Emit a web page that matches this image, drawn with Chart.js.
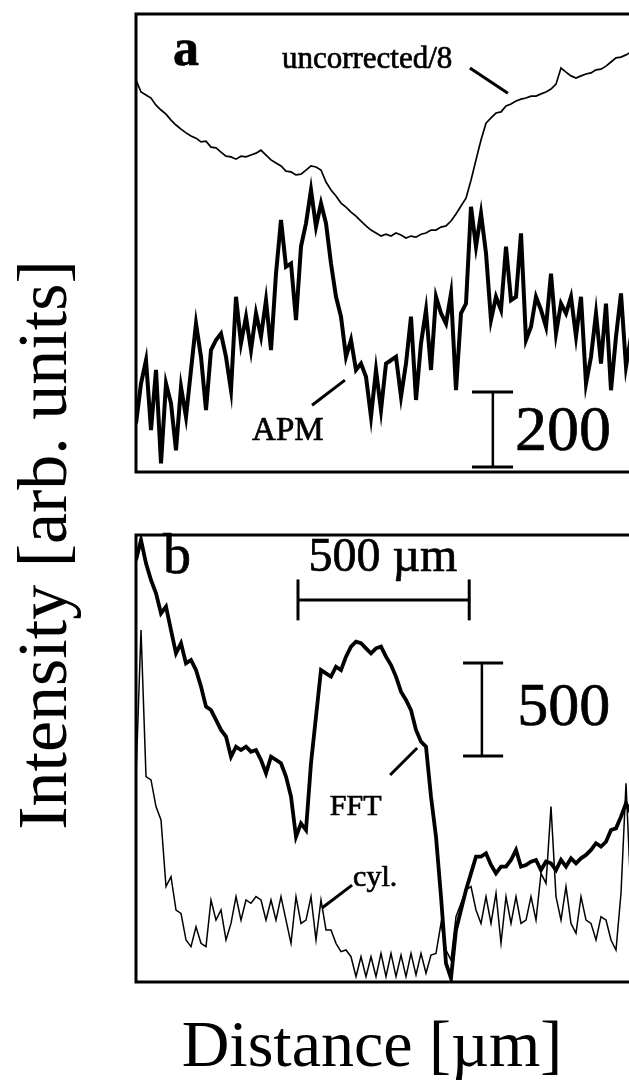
<!DOCTYPE html>
<html>
<head>
<meta charset="utf-8">
<script src="https://cdn.jsdelivr.net/npm/chart.js@4.4.1/dist/chart.umd.min.js"></script>
<style>
  html, body { margin: 0; padding: 0; width: 629px; height: 1080px; overflow: hidden; background: #fff; }
  canvas { position: absolute; left: 0; }
  #chartA { top: 0; }
  #chartB { top: 520px; }
  .title { position: absolute; font-family: "Liberation Serif", serif; color: #000; white-space: nowrap; text-align: center; }
  #ytitle { left: -307px; top: 508px; width: 700px; height: 74px; line-height: 74px; font-size: 70px; transform: rotate(-90deg); }
  #xtitle { left: 72px; top: 1006px; width: 600px; height: 76px; line-height: 76px; font-size: 66px; }
</style>
</head>
<body>
<canvas id="chartA" width="640" height="480"></canvas>
<canvas id="chartB" width="640" height="470"></canvas>
<div class="title" id="ytitle">Intensity [arb. units]</div>
<div class="title" id="xtitle">Distance [µm]</div>
<script>
// sample spacing along the profile (µm per point)
const STEP_UM = 14.6;
const X_MAX = 1460;

// panel a
const uncorrected = [1040,1008,1000,992,973,960,949,933,920,909,
  899,891,885,875,877,861,859,848,837,835,
  829,837,835,840,845,853,840,827,819,811,
  797,795,787,789,800,811,808,800,768,747,
  731,712,701,688,677,664,651,640,632,624,
  629,624,632,627,619,624,621,629,632,640,
  640,648,651,664,683,704,725,773,827,880,
  925,939,952,955,971,976,984,989,992,997,
  997,1003,1008,1016,1029,1072,1061,1051,1045,1051,
  1056,1059,1067,1069,1077,1088,1099,1101,1107,1115];
const apm = [124,231,293,107,267,18,231,178,53,222,
  142,267,391,302,160,320,347,364,302,213,
  462,338,409,320,418,356,453,320,524,667,
  542,551,400,596,658,747,649,711,658,551,
  462,409,302,347,267,284,249,142,267,160,
  284,293,302,196,284,409,187,338,427,267,
  462,418,391,471,213,418,444,702,596,684,
  578,400,462,427,596,453,462,631,347,382,
  462,427,382,524,364,444,418,462,356,462,
  231,302,418,284,444,213,356,471,276,356];

// panel b
const fft = [2269,2376,2251,2161,2090,1982,2018,1892,1767,1821,
  1713,1731,1677,1588,1480,1462,1409,1355,1319,1211,
  1265,1247,1265,1238,1247,1194,1122,1211,1194,1176,
  1104,997,781,853,817,1176,1427,1677,1659,1642,
  1695,1677,1749,1803,1830,1821,1794,1767,1794,1803,
  1749,1704,1642,1561,1516,1462,1355,1292,1265,996,
  781,459,100,20,280,387,495,584,674,674,
  692,629,584,620,620,656,710,620,629,647,
  656,602,647,638,602,656,620,665,638,665,
  683,710,746,728,754,817,826,889,961,907];
const cyl = [1104,1892,1104,1086,943,871,513,566,387,369,
  226,190,297,208,190,441,333,387,226,315,
  459,333,441,423,459,441,333,441,333,459,
  333,208,459,315,333,459,226,441,280,280,
  208,163,172,136,29,136,29,136,29,154,
  29,154,29,145,29,154,38,154,47,145,
  154,315,172,118,351,423,495,513,387,315,
  459,315,477,208,459,315,459,315,333,459,
  333,584,530,943,459,333,513,315,262,459,
  333,315,226,351,333,226,172,477,1068,459];

// annotations (data coordinates: µm, arb. units)
const labelsA = [
  { text: "a", x: 108, y: 1080, size: 52, weight: "bold" },
  { text: "uncorrected/8", x: 426, y: 1072, size: 31 },
  { text: "APM", x: 339, y: 80, size: 33 },
  { text: "200", x: 1107, y: 53, size: 64 }
];
const leadersA = [[975, 1072, 1086, 1005], [514, 173, 610, 240]];
const barA = { x: 1042, from: 8, length: 200, capL: 981, capR: 1101 };

const labelsB = [
  { text: "b", x: 79, y: 2199, size: 56 },
  { text: "500 µm", x: 721, y: 2210, size: 48, align: "center" },
  { text: "500", x: 1113, y: 1382, size: 62 },
  { text: "FFT", x: 566, y: 898, size: 30 },
  { text: "cyl.", x: 634, y: 516, size: 30 }
];
const leadersB = [[742, 1113, 821, 1258], [543, 398, 631, 521]];
const barB = { x: 1010, from: 1215, length: 500, capL: 955, capR: 1072 };
const umBar = { from: 473, length: 500, y: 2054, tick: 110 };

function series(values) {
  return values.map((v, i) => ({ x: i * STEP_UM, y: v }));
}

function line(ctx, x1, y1, x2, y2, w) {
  ctx.lineWidth = w;
  ctx.beginPath();
  ctx.moveTo(x1, y1);
  ctx.lineTo(x2, y2);
  ctx.stroke();
}

function decorPlugin(labels, leaders, bar, hbar) {
  return {
    id: "decor",
    afterDraw(chart) {
      const { ctx, chartArea: a, scales: { x, y } } = chart;
      ctx.save();
      ctx.strokeStyle = "#000";
      ctx.fillStyle = "#000";
      ctx.lineCap = "butt";
      // frame
      ctx.lineWidth = 3;
      ctx.strokeRect(a.left, a.top, a.right - a.left, a.bottom - a.top);
      // leader lines
      leaders.forEach(l => line(ctx, x.getPixelForValue(l[0]), y.getPixelForValue(l[1]),
        x.getPixelForValue(l[2]), y.getPixelForValue(l[3]), 3));
      // vertical scale bar
      const bx = x.getPixelForValue(bar.x);
      const b0 = y.getPixelForValue(bar.from);
      const b1 = y.getPixelForValue(bar.from + bar.length);
      const cl = x.getPixelForValue(bar.capL), cr = x.getPixelForValue(bar.capR);
      line(ctx, bx, b0, bx, b1, 2.5);
      line(ctx, cl, b0, cr, b0, 3);
      line(ctx, cl, b1, cr, b1, 3);
      // horizontal length bar
      if (hbar) {
        const h0 = x.getPixelForValue(hbar.from);
        const h1 = x.getPixelForValue(hbar.from + hbar.length);
        const hy = y.getPixelForValue(hbar.y);
        const t0 = y.getPixelForValue(hbar.y + hbar.tick);
        const t1 = y.getPixelForValue(hbar.y - hbar.tick);
        line(ctx, h0, hy, h1, hy, 3);
        line(ctx, h0, t0, h0, t1, 3);
        line(ctx, h1, t0, h1, t1, 3);
      }
      // text labels (thin outline to mimic the heavy print)
      ctx.textBaseline = "alphabetic";
      ctx.lineWidth = 0.7;
      labels.forEach(l => {
        ctx.font = `${l.weight || "normal"} ${l.size}px "Liberation Serif"`;
        ctx.textAlign = l.align || "left";
        const px = x.getPixelForValue(l.x), py = y.getPixelForValue(l.y);
        ctx.fillText(l.text, px, py);
        ctx.strokeText(l.text, px, py);
      });
      ctx.restore();
    }
  };
}

function makeChart(id, datasets, yMin, yMax, pad, plugin) {
  return new Chart(document.getElementById(id), {
    type: "line",
    data: { datasets },
    options: {
      responsive: false,
      animation: false,
      events: [],
      layout: { padding: pad },
      elements: { point: { radius: 0 }, line: { tension: 0, borderJoinStyle: "miter" } },
      plugins: { legend: { display: false }, tooltip: { enabled: false } },
      scales: {
        x: { type: "linear", min: 0, max: X_MAX, display: false },
        y: { min: yMin, max: yMax, display: false }
      }
    },
    plugins: [plugin]
  });
}

makeChart("chartA", [
  { label: "uncorrected/8", data: series(uncorrected), borderColor: "#000", borderWidth: 1.7 },
  { label: "APM", data: series(apm), borderColor: "#000", borderWidth: 4 }
], -5, 1216, { left: 136, right: 4, top: 14, bottom: 8 },
  decorPlugin(labelsA, leadersA, barA, null));

makeChart("chartB", [
  { label: "cyl.", data: series(cyl), borderColor: "#000", borderWidth: 1.5 },
  { label: "FFT", data: series(fft), borderColor: "#000", borderWidth: 3.8 }
], 0, 2403, { left: 136, right: 4, top: 15, bottom: 8 },
  decorPlugin(labelsB, leadersB, barB, umBar));
</script>
</body>
</html>
